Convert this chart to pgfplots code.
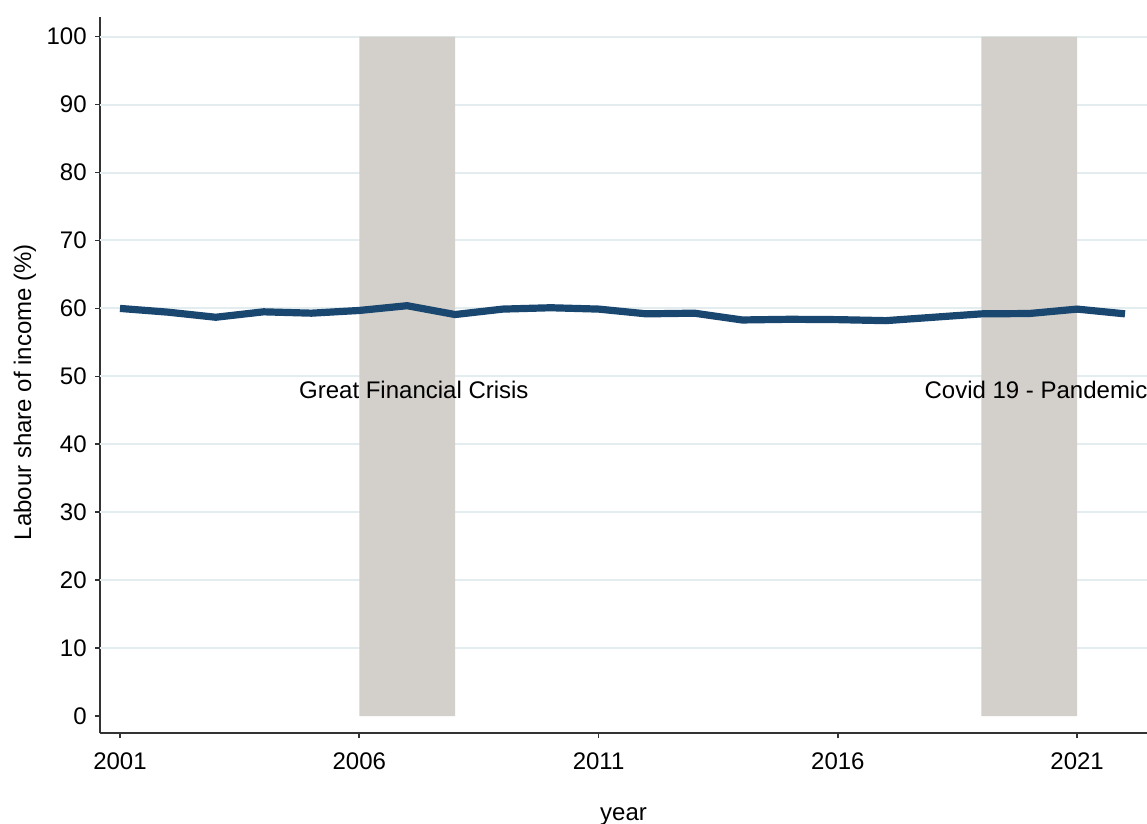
\documentclass[border=0pt]{standalone}
\usepackage{fontspec}
\setmainfont{Liberation Sans}
\usepackage{pgfplots}
\pgfplotsset{compat=1.18}
\definecolor{lineblue}{HTML}{1A476F}
\definecolor{shade}{HTML}{D3D0CB}
\definecolor{gridc}{HTML}{E3EDEF}
\definecolor{axc}{HTML}{333333}
\begin{document}
\fontsize{12}{14}\selectfont
\begin{tikzpicture}
\begin{axis}[
  scale only axis,
  width=523.5pt, height=358pt,
  xmin=2000.582, xmax=2022.46,
  ymin=-2.5, ymax=102.9,
  axis lines*=left,
  axis line style={color=axc, line width=1pt},
  tick style={color=axc, line width=0.8pt},
  tick align=outside,
  major tick length=2.5pt,
  xtick={2001,2006,2011,2016,2021},
  ytick={0,10,...,100},
  xticklabel style={yshift=-3pt},
  /pgf/number format/1000 sep={},
  /pgf/number format/assume math mode=true,
  extra y ticks={10,20,...,100},
  extra y tick labels={},
  extra y tick style={ymajorgrids=true, major tick length=0pt},
  grid style={color=gridc, line width=1pt},
  xlabel={year},
  ylabel={Labour share of income (\%)},
  xlabel style={at={(rel axis cs:0.5,0)}, anchor=base, yshift=-43.75pt},
  ylabel style={at={([xshift=-37.5pt]rel axis cs:0,0.476)}, anchor=center},
  clip=false,
]
\addplot[draw=none, fill=shade] coordinates {(2006,0) (2008,0) (2008,100) (2006,100) (2006,0)};
\addplot[draw=none, fill=shade] coordinates {(2019,0) (2021,0) (2021,100) (2019,100) (2019,0)};
\addplot[color=lineblue, line width=3.6pt] coordinates {
(2001,60.0) (2002,59.45) (2003,58.7) (2004,59.5) (2005,59.3) (2006,59.7)
(2007,60.4) (2008,59.1) (2009,59.9) (2010,60.1) (2011,59.9) (2012,59.2)
(2013,59.3) (2014,58.3) (2015,58.4) (2016,58.35) (2017,58.2) (2018,58.7)
(2019,59.2) (2020,59.25) (2021,59.9) (2022,59.2)
};
\node[anchor=base] at (axis cs:2007.14,46.7) {Great Financial Crisis};
\node[anchor=base] at (axis cs:2020.14,46.7) {Covid 19 - Pandemic};
\end{axis}
\pgfresetboundingbox
\useasboundingbox ([xshift=-50pt,yshift=-45pt]current axis.south west) rectangle ([yshift=8.5pt]current axis.north east);
\end{tikzpicture}
\end{document}
